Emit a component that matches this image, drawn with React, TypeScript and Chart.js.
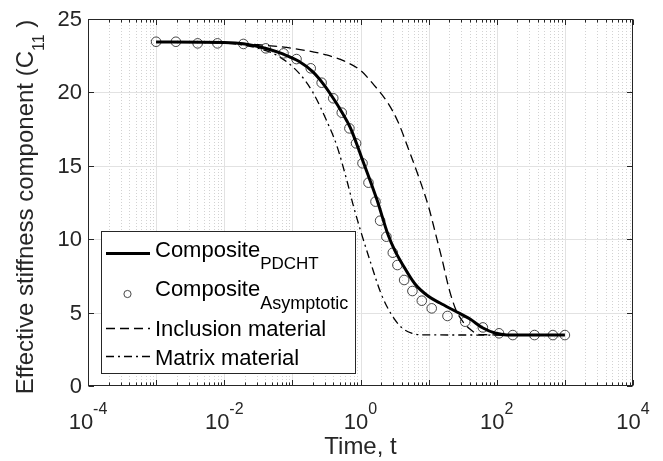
import React, { useEffect, useRef } from 'react';
import { Chart, registerables } from 'chart.js';

Chart.register(...registerables);

// ---- data ----
const pdchtTime = [0.001, 0.01, 0.02, 0.0437, 0.0741, 0.126, 0.2, 0.282, 0.398, 0.525, 0.708, 1.05, 1.74, 2.54, 3.21, 4.06, 6.31, 9.79, 14.7, 24.4, 40.5, 62.8, 94.2, 141, 1000];
const pdchtValue = [23.43, 23.4, 23.3, 22.96, 22.6, 22.1, 21.4, 20.6, 19.6, 18.7, 17.6, 15.5, 12.7, 10.3, 9.2, 8.35, 6.95, 6.13, 5.65, 5.11, 4.56, 3.95, 3.61, 3.48, 3.47];

const asymTime = [0.001, 0.00195, 0.00407, 0.00794, 0.0191, 0.0407, 0.0741, 0.115, 0.186, 0.269, 0.398, 0.531, 0.687, 0.861, 1.07, 1.31, 1.66, 1.94, 2.4, 2.98, 3.48, 4.37, 5.78, 7.94, 11.1, 18.9, 34.4, 62.5, 108, 172, 358, 667, 1000];
const asymValue = [23.45, 23.45, 23.34, 23.34, 23.3, 23.0, 22.66, 22.27, 21.64, 20.66, 19.6, 18.62, 17.55, 16.53, 15.17, 13.85, 12.56, 11.26, 10.17, 9.08, 8.24, 7.22, 6.47, 5.81, 5.29, 4.77, 4.38, 3.99, 3.59, 3.47, 3.47, 3.47, 3.47];

const inclusionTime = [0.001, 0.01, 0.0316, 0.1, 0.316, 0.631, 1, 1.58, 2.51, 3.55, 5.01, 7.08, 10, 12.6, 15.8, 20, 25.1, 31.6, 39.8, 56.2, 1000];
const inclusionValue = [23.43, 23.4, 23.25, 23.0, 22.55, 22.05, 21.5, 20.5, 19.3, 18.0, 16.2, 14.3, 12.2, 10.4, 8.6, 6.6, 5.2, 4.4, 3.9, 3.5, 3.47];

const matrixTime = [0.001, 0.01, 0.0316, 0.0631, 0.126, 0.2, 0.316, 0.447, 0.631, 0.794, 1, 1.41, 2, 2.82, 3.98, 5.62, 7.94, 1000];
const matrixValue = [23.43, 23.35, 23.0, 22.45, 21.3, 20.0, 18.1, 16.4, 14.0, 12.2, 10.6, 8.4, 6.3, 4.9, 4.0, 3.6, 3.48, 3.47];

const yTicks = [0, 5, 10, 15, 20, 25];
const xDecades = [-4, -2, 0, 2, 4];

const FONT = '"Liberation Sans", Arial, Helvetica, sans-serif';
const AXIS = '#262626';

type Part = { t: string; size: number; dy: number };

function partsWidth(ctx: CanvasRenderingContext2D, parts: Part[]) {
  let w = 0;
  for (const p of parts) {
    ctx.font = `${p.size}px ${FONT}`;
    w += ctx.measureText(p.t).width;
  }
  return w;
}

function drawParts(ctx: CanvasRenderingContext2D, parts: Part[], x: number, y: number) {
  let cx = x;
  for (const p of parts) {
    ctx.font = `${p.size}px ${FONT}`;
    ctx.fillText(p.t, cx, y + p.dy);
    cx += ctx.measureText(p.t).width;
  }
}

const matlabPlugin = {
  id: 'matlabAxes',
  beforeDatasetsDraw(chart: any) {
    const { ctx, chartArea: a, scales } = chart;
    const xs = scales.x, ys = scales.y;
    ctx.save();
    ctx.lineWidth = 1;
    ctx.strokeStyle = '#d2d2d2';
    ctx.setLineDash([1, 2]);
    for (let e = -4; e < 4; e++) {
      for (let k = 2; k <= 9; k++) {
        const px = Math.round(xs.getPixelForValue(k * Math.pow(10, e))) + 0.5;
        ctx.beginPath();
        ctx.moveTo(px, a.top);
        ctx.lineTo(px, a.bottom);
        ctx.stroke();
      }
    }
    ctx.setLineDash([]);
    ctx.strokeStyle = '#e2e2e2';
    for (let e = -3; e <= 3; e++) {
      const px = Math.round(xs.getPixelForValue(Math.pow(10, e))) + 0.5;
      ctx.beginPath();
      ctx.moveTo(px, a.top);
      ctx.lineTo(px, a.bottom);
      ctx.stroke();
    }
    for (const v of yTicks) {
      if (v === 0 || v === 25) continue;
      const py = Math.round(ys.getPixelForValue(v)) + 0.5;
      ctx.beginPath();
      ctx.moveTo(a.left, py);
      ctx.lineTo(a.right, py);
      ctx.stroke();
    }
    ctx.restore();
  },
  afterDraw(chart: any) {
    const { ctx, chartArea: a, scales } = chart;
    const xs = scales.x, ys = scales.y;
    ctx.save();
    ctx.strokeStyle = AXIS;
    ctx.lineWidth = 1;
    const L = Math.round(a.left) + 0.5, R = Math.round(a.right) - 0.5;
    const T = Math.round(a.top) + 0.5, B = Math.round(a.bottom) - 0.5;
    ctx.strokeRect(L, T, R - L, B - T);
    ctx.beginPath();
    for (let e = -4; e <= 4; e++) {
      for (let k = 1; k <= 9; k++) {
        if (e === 4 && k > 1) break;
        const px = Math.round(xs.getPixelForValue(k * Math.pow(10, e))) + 0.5;
        const len = k === 1 ? 5.5 : 3;
        ctx.moveTo(px, B);
        ctx.lineTo(px, B - len);
        ctx.moveTo(px, T);
        ctx.lineTo(px, T + len);
      }
    }
    for (const v of yTicks) {
      const py = Math.round(ys.getPixelForValue(v)) + 0.5;
      ctx.moveTo(L, py);
      ctx.lineTo(L + 5.5, py);
      ctx.moveTo(R, py);
      ctx.lineTo(R - 5.5, py);
    }
    ctx.stroke();

    ctx.fillStyle = AXIS;
    ctx.textAlign = 'right';
    ctx.textBaseline = 'middle';
    ctx.font = `22px ${FONT}`;
    for (const v of yTicks) {
      ctx.fillText(String(v), a.left - 6, ys.getPixelForValue(v) + 1);
    }
    ctx.textAlign = 'left';
    ctx.textBaseline = 'alphabetic';
    for (const e of xDecades) {
      const parts: Part[] = [
        { t: '10', size: 22, dy: 0 },
        { t: String(e), size: 16, dy: -15 },
      ];
      const w = partsWidth(ctx, parts);
      const px = xs.getPixelForValue(Math.pow(10, e));
      drawParts(ctx, parts, px - w / 2, 429);
    }
    ctx.font = `24px ${FONT}`;
    ctx.textAlign = 'center';
    ctx.fillText('Time, t', (a.left + a.right) / 2, 454);
    ctx.save();
    ctx.translate(33, 207);
    ctx.rotate(-Math.PI / 2);
    ctx.textAlign = 'left';
    const yParts: Part[] = [
      { t: 'Effective stiffness component (C', size: 24, dy: 0 },
      { t: '11', size: 16, dy: 11 },
      { t: ' )', size: 24, dy: 0 },
    ];
    const yw = partsWidth(ctx, yParts);
    drawParts(ctx, yParts, -yw / 2, 0);
    ctx.restore();

    // legend
    const bx = 101.5, by = 231.5, bw = 254, bh = 142;
    ctx.fillStyle = '#ffffff';
    ctx.fillRect(bx, by, bw, bh);
    ctx.strokeStyle = AXIS;
    ctx.lineWidth = 1;
    ctx.strokeRect(bx, by, bw, bh);
    const sx0 = 106, sx1 = 150, tx = 155;
    ctx.strokeStyle = '#000';
    ctx.lineWidth = 3;
    ctx.beginPath();
    ctx.moveTo(sx0, 253.5);
    ctx.lineTo(sx1, 253.5);
    ctx.stroke();
    ctx.lineWidth = 0.9;
    ctx.strokeStyle = '#333';
    ctx.beginPath();
    ctx.arc(127.5, 294, 3.6, 0, Math.PI * 2);
    ctx.stroke();
    ctx.strokeStyle = '#000';
    ctx.lineWidth = 1.3;
    ctx.setLineDash([9, 5]);
    ctx.beginPath();
    ctx.moveTo(sx0, 328.5);
    ctx.lineTo(sx1, 328.5);
    ctx.stroke();
    ctx.setLineDash([8, 4, 2, 4]);
    ctx.beginPath();
    ctx.moveTo(sx0, 356.5);
    ctx.lineTo(sx1, 356.5);
    ctx.stroke();
    ctx.setLineDash([]);

    ctx.fillStyle = '#000';
    ctx.textAlign = 'left';
    drawParts(ctx, [
      { t: 'Composite', size: 22, dy: 0 },
      { t: 'PDCHT', size: 17, dy: 12 },
    ], tx, 257);
    drawParts(ctx, [
      { t: 'Composite', size: 22, dy: 0 },
      { t: 'Asymptotic', size: 18, dy: 12.5 },
    ], tx, 296);
    drawParts(ctx, [{ t: 'Inclusion material', size: 22, dy: 0 }], tx, 336);
    drawParts(ctx, [{ t: 'Matrix material', size: 22, dy: 0 }], tx, 365);
    ctx.restore();
  },
};

export default function App() {
  const ref = useRef<HTMLCanvasElement>(null);
  useEffect(() => {
    const canvas = ref.current;
    if (!canvas) return;
    const pts = (xs: number[], ys: number[]) => xs.map((x, i) => ({ x, y: ys[i] }));
    const chart = new Chart(canvas, {
      type: 'line',
      data: {
        datasets: [
          {
            label: 'Composite PDCHT',
            data: pts(pdchtTime, pdchtValue),
            borderColor: '#000',
            borderWidth: 3,
            pointRadius: 0,
            cubicInterpolationMode: 'monotone',
            fill: false,
          },
          {
            label: 'Composite Asymptotic',
            data: pts(asymTime, asymValue),
            showLine: false,
            pointStyle: 'circle',
            pointRadius: 4.8,
            pointBorderWidth: 0.9,
            pointBorderColor: '#333',
            pointBackgroundColor: 'rgba(0,0,0,0)',
            borderColor: '#333',
            backgroundColor: 'rgba(0,0,0,0)',
          },
          {
            label: 'Inclusion material',
            data: pts(inclusionTime, inclusionValue),
            borderColor: '#000',
            borderWidth: 1.3,
            borderDash: [9, 5],
            pointRadius: 0,
            cubicInterpolationMode: 'monotone',
            fill: false,
          },
          {
            label: 'Matrix material',
            data: pts(matrixTime, matrixValue),
            borderColor: '#000',
            borderWidth: 1.3,
            borderDash: [8, 4, 2, 4],
            pointRadius: 0,
            cubicInterpolationMode: 'monotone',
            fill: false,
          },
        ],
      },
      options: {
        responsive: false,
        animation: false,
        devicePixelRatio: 1,
        layout: { padding: { top: 19, right: 30, left: 0, bottom: 0 } },
        plugins: { legend: { display: false }, tooltip: { enabled: false } },
        events: [],
        scales: {
          x: {
            type: 'logarithmic',
            min: 1e-4,
            max: 1e4,
            ticks: { display: false },
            grid: { display: false },
            border: { display: false },
            afterFit: (s: any) => { s.height = 75; },
          },
          y: {
            type: 'linear',
            min: 0,
            max: 25,
            ticks: { display: false },
            grid: { display: false },
            border: { display: false },
            afterFit: (s: any) => { s.width = 88; },
          },
        },
      } as any,
      plugins: [matlabPlugin],
    });
    return () => chart.destroy();
  }, []);
  return (
    <div style={{ position: 'absolute', left: 0, top: 0, width: 663, height: 461, background: '#fff' }}>
      <canvas ref={ref} width={663} height={461} style={{ display: 'block', width: 663, height: 461 }} />
    </div>
  );
}
